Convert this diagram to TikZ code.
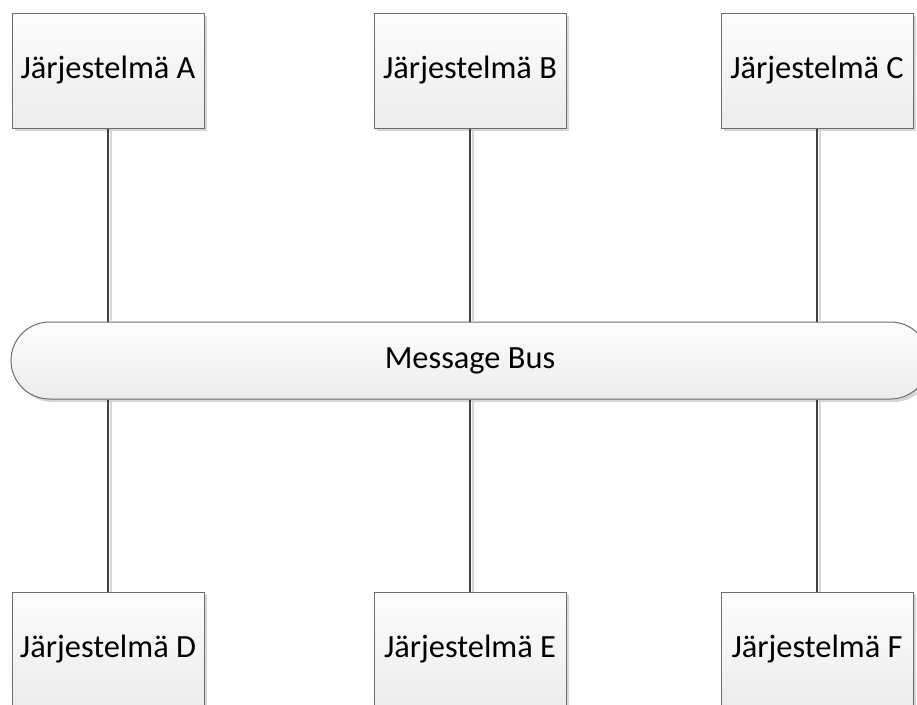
\documentclass[tikz,border=0pt]{standalone}
\usepackage{fontspec}
\setmainfont{Carlito}
\usetikzlibrary{shadows}
\definecolor{boxline}{HTML}{6D6D6D}
\definecolor{linkgray}{HTML}{404040}
\definecolor{shadowgray}{HTML}{D6D6D6}
\definecolor{filltop}{HTML}{FDFDFD}
\definecolor{fillbot}{HTML}{ECECEC}
\begin{document}
\begin{tikzpicture}[x=1pt,y=-1pt,
  label font/.style={font=\fontsize{32.4}{38}\selectfont, text=black},
  sysbox/.style={draw=boxline, line width=1pt, top color=filltop, bottom color=fillbot,
    minimum width=192pt, minimum height=115pt, inner sep=0pt, label font,
    drop shadow={shadow xshift=3pt, shadow yshift=-3pt, fill=shadowgray, opacity=1}},
  busbox/.style={draw=boxline, line width=1pt, top color=filltop, bottom color=fillbot,
    minimum width=918pt, minimum height=77pt, inner sep=0pt, rounded corners=38.5pt, label font,
    drop shadow={shadow xshift=3pt, shadow yshift=-3pt, fill=shadowgray, opacity=1}},
  link/.style={draw=linkgray, line width=2pt},
  linkshade/.style={draw=shadowgray, line width=2pt}]
\useasboundingbox (0,0) rectangle (917,704);
\fill[white] (0,0) rectangle (917,704);

% message bus
\node[busbox] (bus) at (470,360.5) {Message Bus};

% systems above the bus
\node[sysbox] (A) at (108,70.5) {Järjestelmä A};
\node[sysbox] (B) at (470,70.5) {Järjestelmä B};
\node[sysbox] (C) at (817,70.5) {Järjestelmä C};

% systems below the bus
\node[sysbox] (D) at (108,649.5) {Järjestelmä D};
\node[sysbox] (E) at (470,649.5) {Järjestelmä E};
\node[sysbox] (F) at (817,649.5) {Järjestelmä F};

% connectors, each with a soft offset shade on its right
\foreach \s in {A,B,C}{
  \draw[linkshade] ([xshift=3pt]\s.south) -- ([xshift=3pt]\s.south |- bus.north);
  \draw[link] (\s.south) -- (\s.south |- bus.north);
}
\foreach \s in {D,E,F}{
  \draw[linkshade] ([xshift=3pt]\s.north |- bus.south) -- ([xshift=3pt]\s.north);
  \draw[link] (\s.north |- bus.south) -- (\s.north);
}
\end{tikzpicture}
\end{document}
